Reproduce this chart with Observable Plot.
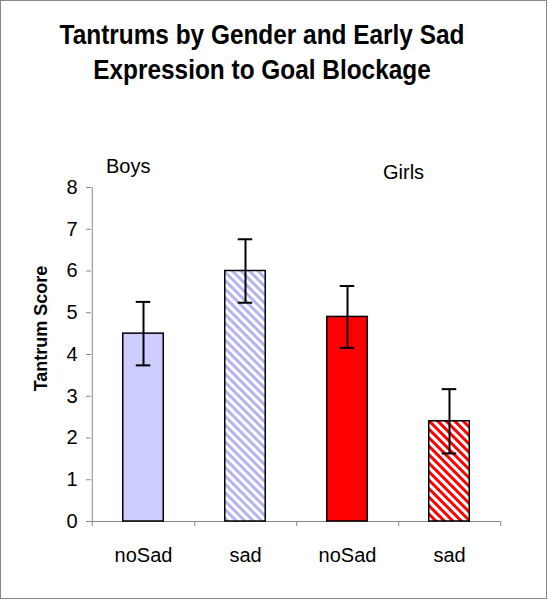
<!DOCTYPE html>
<html><head><meta charset="utf-8">
<script src="https://cdn.jsdelivr.net/npm/d3@7"></script>
<script src="https://cdn.jsdelivr.net/npm/@observablehq/plot@0.6"></script>
<style>
body{margin:0;background:#fff;font-family:"Liberation Sans",Arial,sans-serif;}
#wrap{position:relative;width:548px;height:600px;overflow:hidden;background:#fff}
#title{position:relative;height:100px;}
#title div{position:absolute;left:0;top:18px;width:524px;text-align:center;font-weight:bold;font-size:24.4px;line-height:30.4px;transform:scaleY(1.15);transform-origin:0 0;color:#000}
#frame{position:absolute;left:0;top:0;width:545px;height:597px;border:1px solid #888;pointer-events:none}
#chart svg{display:block}
</style></head><body>
<div id="wrap"><div id="title"><div>Tantrums by Gender and Early Sad<br>Expression to Goal Blockage</div></div><div id="chart"></div><div id="frame"></div></div>
<script>
const groups = ["Boys", "Boys", "Girls", "Girls"];
const conditions = ["noSad", "sad", "noSad", "sad"];
const means = [4.5, 6.0, 4.9, 2.4];
const errors = [0.76, 0.76, 0.74, 0.77];
const fills = ["#ccccff", "url(#hatchBoys)", "#ff0000", "url(#hatchGirls)"];
const yTicks = [0, 1, 2, 3, 4, 5, 6, 7, 8];
const groupLabels = ["Boys", "Girls"];
const yLabel = "Tantrum Score";

const rows = groups.map((g, i) => ({
  key: g + " " + conditions[i], group: g, condition: conditions[i],
  mean: means[i], lo: means[i] - errors[i], hi: means[i] + errors[i], fill: fills[i]
}));
const keys = rows.map(d => d.key);
const labelRows = groupLabels.map(g => ({group: g, key: keys[groups.indexOf(g)]}));

const W = 548, H = 500, mL = 91, mR = 47, mT = 87, mB = 79;
const half = (W - mL - mR) / keys.length / 2;
const barHalf = 20.5, capHalf = 7.5;
const font = "'Liberation Sans', Arial, sans-serif";

const svg = Plot.plot({
  width: W, height: H,
  marginTop: mT, marginBottom: mB, marginLeft: mL, marginRight: mR,
  x: {domain: keys, padding: 0, axis: null},
  y: {domain: [0, 8], axis: null},
  color: {type: "identity"},
  style: {fontFamily: font, background: "white", color: "black"},
  marks: [
    Plot.ruleY([0], {stroke: "#888", strokeWidth: 1}),
    Plot.ruleX(rows.slice(0, 1), {x: "key", y1: () => 8, y2: () => 0, dx: -half, insetBottom: -5, stroke: "#888"}),
    Plot.ruleX(rows, {x: "key", y1: () => 0, y2: () => 0, dx: half, insetBottom: -5, stroke: "#888"}),
    Plot.axisY(yTicks, {tickSize: 5, tickPadding: 9, fontSize: 20, stroke: "#888", fill: "black", label: null}),
    Plot.axisX({tickSize: 0, tickPadding: 26, fontSize: 20, fill: "black", label: null,
      tickFormat: k => rows.find(r => r.key === k).condition}),
    Plot.barY(rows, {x: "key", y: "mean", fill: "fill", stroke: "black", strokeWidth: 1.5,
      insetLeft: half - barHalf, insetRight: half - barHalf}),
    Plot.ruleX(rows, {x: "key", y1: "hi", y2: "lo", stroke: "black", strokeWidth: 2}),
    Plot.tickY(rows, {x: "key", y: "hi", stroke: "black", strokeWidth: 2, insetLeft: half - capHalf, insetRight: half - capHalf}),
    Plot.tickY(rows, {x: "key", y: "lo", stroke: "black", strokeWidth: 2, insetLeft: half - capHalf, insetRight: half - capHalf}),
    Plot.text([yLabel], {text: d => d, frameAnchor: "left", textAnchor: "middle", lineAnchor: "middle", rotate: -90, dx: -50, dy: -26, fontSize: 18, fontWeight: "bold", fill: "black"}),
    Plot.text(labelRows.slice(0, 1), {x: "key", y: () => 8, text: "group", textAnchor: "start", lineAnchor: "bottom", dx: -37.5, dy: -15, fontSize: 20, fill: "black"}),
    Plot.text(labelRows.slice(1, 2), {x: "key", y: () => 8, text: "group", textAnchor: "start", lineAnchor: "bottom", dx: 35.5, dy: -9, fontSize: 20, fill: "black"})
  ]
});

const defs = d3.select(svg).insert("defs", ":first-child");
function hatch(id, bg, fg) {
  const p = defs.append("pattern").attr("id", id).attr("patternUnits", "userSpaceOnUse")
    .attr("width", 6).attr("height", 6).attr("patternTransform", "rotate(-45)");
  p.append("rect").attr("width", 6).attr("height", 6).attr("fill", bg);
  p.append("rect").attr("width", 3).attr("height", 6).attr("fill", fg);
}
hatch("hatchBoys", "#ffffff", "#b4b4f0");
hatch("hatchGirls", "#ff0000", "#ffffff");

document.getElementById("chart").appendChild(svg);
</script>
</body></html>
